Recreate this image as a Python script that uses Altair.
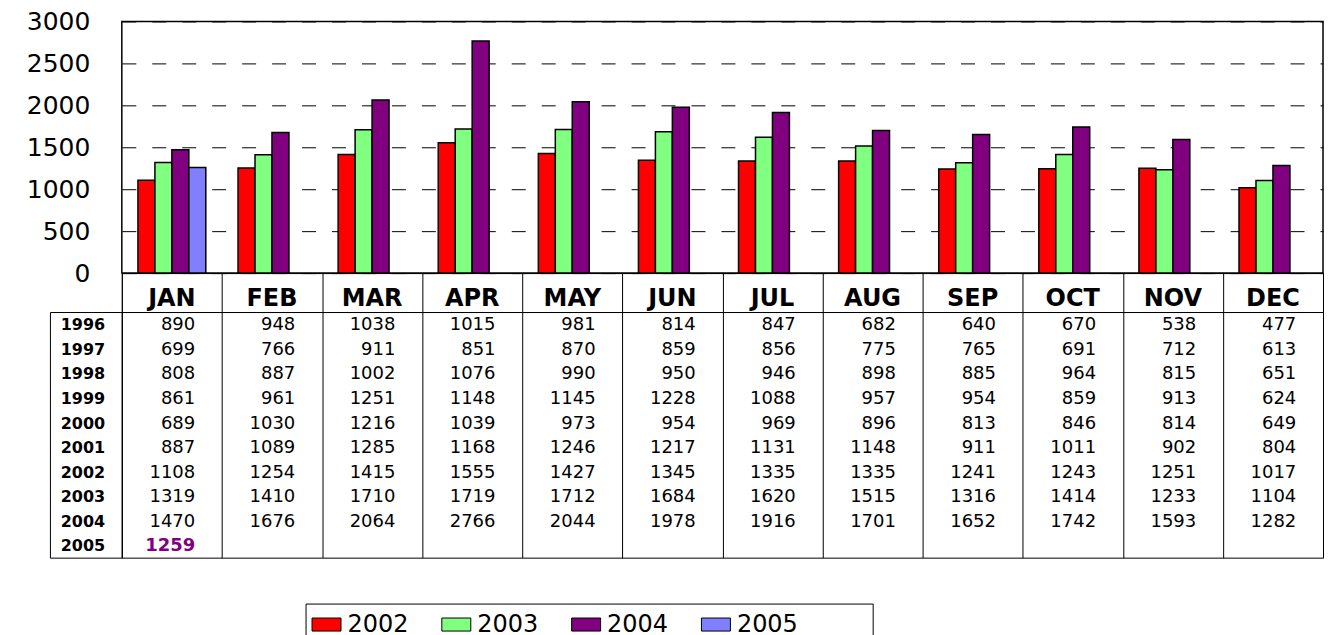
import altair as alt
import pandas as pd

months = ["JAN", "FEB", "MAR", "APR", "MAY", "JUN", "JUL", "AUG", "SEP", "OCT", "NOV", "DEC"]
years = ["1996", "1997", "1998", "1999", "2000", "2001", "2002", "2003", "2004", "2005"]

v1996 = [890, 948, 1038, 1015, 981, 814, 847, 682, 640, 670, 538, 477]
v1997 = [699, 766, 911, 851, 870, 859, 856, 775, 765, 691, 712, 613]
v1998 = [808, 887, 1002, 1076, 990, 950, 946, 898, 885, 964, 815, 651]
v1999 = [861, 961, 1251, 1148, 1145, 1228, 1088, 957, 954, 859, 913, 624]
v2000 = [689, 1030, 1216, 1039, 973, 954, 969, 896, 813, 846, 814, 649]
v2001 = [887, 1089, 1285, 1168, 1246, 1217, 1131, 1148, 911, 1011, 902, 804]
v2002 = [1108, 1254, 1415, 1555, 1427, 1345, 1335, 1335, 1241, 1243, 1251, 1017]
v2003 = [1319, 1410, 1710, 1719, 1712, 1684, 1620, 1515, 1316, 1414, 1233, 1104]
v2004 = [1470, 1676, 2064, 2766, 2044, 1978, 1916, 1701, 1652, 1742, 1593, 1282]
v2005 = [1259]

chart_years = ["2002", "2003", "2004", "2005"]
chart_colors = ["#FF0000", "#80FF80", "#800080", "#8080FF"]
y_ticks = [0, 500, 1000, 1500, 2000, 2500, 3000]

series = dict(zip(years, [v1996, v1997, v1998, v1999, v2000, v2001, v2002, v2003, v2004, v2005]))
rows = []
for yr, vals in series.items():
    for m, v in zip(months, vals):
        rows.append({"year": yr, "month": m, "value": v})
table_df = pd.DataFrame(rows)
bar_df = table_df[table_df["year"].isin(chart_years)]
month_df = pd.DataFrame({"month": months})
year_df = pd.DataFrame({"year": years})

W = 1203
LABEL_W = 72
FONT = "DejaVu Sans"
# trailing non-breaking spaces (closed by a zero-width space so they are kept) widen the legend box
PAD_TAIL = "\u00a0" * 9 + "\u200b"

xscale = alt.Scale(domain=months, paddingInner=0, paddingOuter=0)
yrscale = alt.Scale(domain=years, paddingInner=0, paddingOuter=0)
grid_axis = alt.Axis(title=None, labels=False, ticks=False, domain=False, grid=True,
                     tickBand="extent", gridColor="black", gridWidth=1, gridOpacity=1)

bars = alt.Chart(bar_df).mark_bar(stroke="black", strokeWidth=1.5).encode(
    x=alt.X("month:N", sort=months, scale=xscale, axis=None),
    xOffset=alt.XOffset("year:N", scale=alt.Scale(domain=chart_years, paddingInner=0, paddingOuter=0.95)),
    y=alt.Y("value:Q", scale=alt.Scale(domain=[0, 3000], nice=False),
            axis=alt.Axis(values=y_ticks, format="d", title=None, ticks=False, domain=False, labelPadding=32,
                          labelFontSize=25, labelFont=FONT, labelColor="black", grid=True,
                          gridColor="black", gridDash=[14, 16], gridWidth=1, gridOpacity=1)),
    color=alt.Color("year:N", scale=alt.Scale(domain=chart_years, range=chart_colors),
                    legend=alt.Legend(title=None, orient="none", legendX=256, legendY=583,
                                      direction="horizontal", columns=4,
                                      symbolType="M-1,-0.45H1V0.45H-1Z", symbolSize=841,
                                      symbolStrokeColor="black", symbolStrokeWidth=1, symbolOpacity=1,
                                      labelFont=FONT, labelFontSize=24, labelColor="black",
                                      labelOffset=6, columnPadding=30, padding=6,
                                      strokeColor="black",
                                      labelExpr="datum.label == '2005' ? datum.label + '" + PAD_TAIL + "' : datum.label")),
).properties(width=W, height=252, view=alt.ViewBackground(stroke="black", strokeWidth=1.5))

header = alt.Chart(month_df).mark_text(font=FONT, fontWeight="bold", fontSize=24, color="black", dy=6).encode(
    x=alt.X("month:N", sort=months, scale=xscale, axis=grid_axis),
    text="month:N",
).properties(width=W, height=39)

tbl_base = alt.Chart(table_df).encode(
    x=alt.X("month:N", sort=months, scale=xscale, axis=grid_axis, bandPosition=0.733),
    y=alt.Y("year:N", sort=years, scale=yrscale, axis=None),
    text=alt.Text("value:Q", format="d"),
)
tbl_normal = tbl_base.transform_filter("datum.year != '2005'").mark_text(
    align="right", baseline="middle", font=FONT, fontSize=18, color="black", dy=1)
tbl_last = tbl_base.transform_filter("datum.year == '2005'").mark_text(
    align="right", baseline="middle", font=FONT, fontSize=18, fontWeight="bold", color="#800080", dy=1)
table = alt.layer(tbl_normal, tbl_last).properties(width=W, height=246)

labels = alt.Chart(year_df).mark_text(font=FONT, fontWeight="bold", fontSize=16, color="black", dx=-3, dy=1).encode(
    y=alt.Y("year:N", sort=years, scale=yrscale, axis=None),
    text="year:N",
).properties(width=LABEL_W, height=246, view=alt.ViewBackground(stroke="black", strokeWidth=1))


def blank(h):
    return alt.Chart(pd.DataFrame({"a": [""]})).mark_text().encode(text="a:N").properties(
        width=LABEL_W, height=h, view=alt.ViewBackground(strokeOpacity=0))


chart = alt.concat(
    blank(252), bars, blank(39), header, labels, table,
    columns=2, spacing=0, bounds="flush",
).properties(
    padding={"left": 17, "top": 0, "right": 0, "bottom": 0}
).configure(font=FONT).configure_view(stroke="black", strokeWidth=1)

chart.save("out.html", embed_options={"renderer": "svg", "actions": False})
